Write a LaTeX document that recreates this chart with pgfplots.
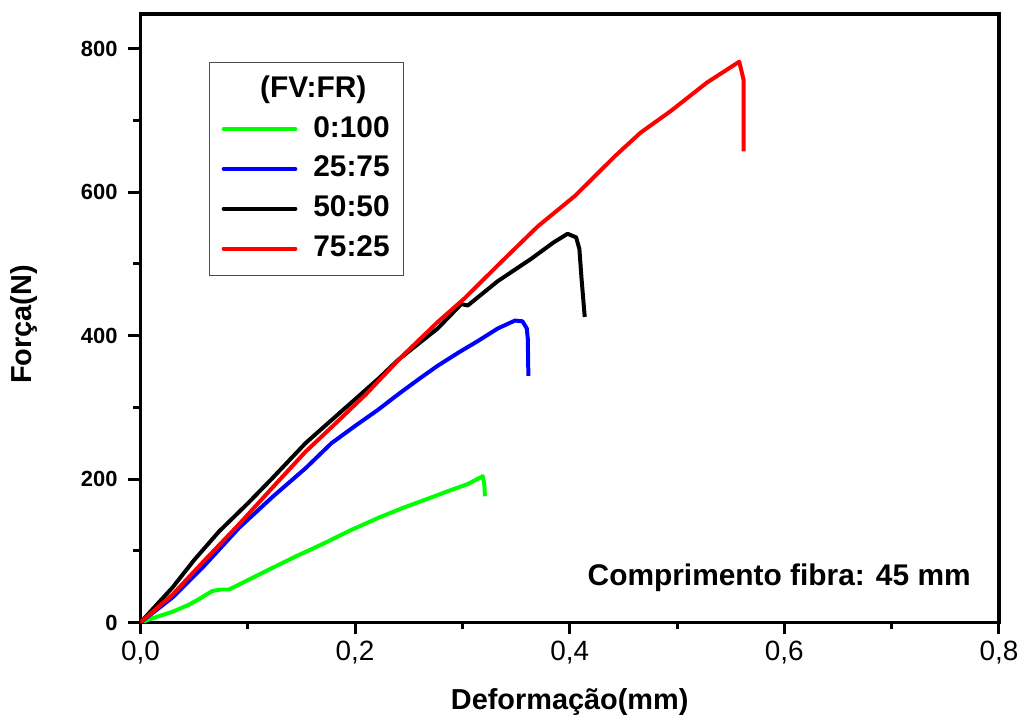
\documentclass[border=0pt]{standalone}
\usepackage{fontspec}
\setmainfont{Liberation Sans}
\usepackage{pgfplots}
\pgfplotsset{compat=1.18}

\definecolor{cgreen}{RGB}{0,255,0}
\definecolor{cblue}{RGB}{0,0,255}
\definecolor{cred}{RGB}{255,0,0}

\begin{document}
\begin{tikzpicture}
\begin{axis}[
  scale only axis,
  width=431pt, height=305.5pt,
  xmin=0, xmax=0.8,
  ymin=0, ymax=848.6,
  xtick={0,0.2,0.4,0.6,0.8},
  ytick={0,200,400,600,800},
  minor tick num=1,
  tick pos=left,
  tick align=outside,
  major tick length=6pt,
  minor tick length=3.5pt,
  every tick/.style={black, line width=1.5pt},
  axis line style={line width=1.7pt},
  /pgf/number format/assume math mode=true,
  xticklabel style={font=\fontsize{14}{16}\selectfont,
    /pgf/number format/.cd, fixed, fixed zerofill, precision=1, use comma},
  yticklabel style={font=\fontsize{11}{13}\selectfont\bfseries, xshift=-2pt,
    /pgf/number format/.cd, fixed, precision=0},
  scaled ticks=false,
  xlabel={Deformação(mm)},
  ylabel={Força(N)},
  xlabel style={font=\fontsize{14.5}{17}\selectfont\bfseries,
    at={(axis description cs:0.5,-0.1309)}, anchor=center},
  ylabel style={font=\fontsize{14.5}{17}\selectfont\bfseries,
    at={(axis description cs:-0.136,0.49)}, anchor=center},
  legend style={at={(axis description cs:0.080,0.9214)}, anchor=north west,
    draw=black!70, line width=0.6pt,
    font=\fontsize{15}{17}\selectfont\bfseries,
    inner xsep=6pt, inner ysep=5.5pt,
    column sep=7pt, row sep=4pt,
    nodes={inner sep=1pt, text height=11pt, text depth=3pt},
    cells={anchor=west}},
  legend image code/.code={\draw[#1, line width=2pt, line cap=round] (0pt,0pt) -- (36pt,0pt);},
]
\addlegendimage{empty legend}
\addlegendentry{\makebox[0pt][c]{(FV:FR)}}

\addplot[cgreen, line width=2pt, line join=round] coordinates {
(0,0) (0.0176,9) (0.030,15) (0.0455,25) (0.055,33) (0.0671,44) (0.075,46)
(0.0826,46) (0.100,59) (0.1228,76) (0.1460,93) (0.1692,109) (0.1950,128)
(0.2218,146) (0.2450,160) (0.2650,171) (0.2900,185) (0.3050,193) (0.3190,204)
(0.3205,192) (0.3210,176)
};
\addlegendentry{0:100}

\addplot[cblue, line width=2pt, line join=round] coordinates {
(0,0) (0.030,35) (0.060,80) (0.0919,132) (0.1230,175) (0.1538,215) (0.1780,250)
(0.2000,274) (0.2218,297) (0.2400,318) (0.2600,340) (0.2770,358) (0.2960,376)
(0.3150,393) (0.3330,410) (0.3490,421) (0.3560,420) (0.3600,410) (0.3610,395)
(0.3612,370) (0.3615,344)
};
\addlegendentry{25:75}

\addplot[black, line width=2pt, line join=round] coordinates {
(0,0) (0.030,49) (0.0500,87) (0.0733,127) (0.1000,166) (0.1228,201) (0.1538,250)
(0.1847,291) (0.2218,340) (0.2400,366) (0.2770,410) (0.2990,444) (0.3050,442)
(0.3330,476) (0.3640,507) (0.3850,530) (0.3980,542) (0.4060,537) (0.4090,521)
(0.4110,480) (0.4140,426)
};
\addlegendentry{50:50}

\addplot[cred, line width=2pt, line join=round] coordinates {
(0,0) (0.030,39) (0.0600,87) (0.0919,137) (0.1230,188) (0.1538,238) (0.1800,275)
(0.2100,318) (0.2430,370) (0.2770,419) (0.3020,452) (0.3330,498) (0.3700,552)
(0.4050,595) (0.4420,650) (0.4660,683) (0.4940,713) (0.5280,753) (0.5580,782)
(0.5620,757) (0.5620,657)
};
\addlegendentry{75:25}

\node[anchor=east, inner sep=0pt, font=\fontsize{15}{17}\selectfont\bfseries]
  at (axis description cs:0.9675,0.0736) {Comprimento fibra: 45 mm};
\end{axis}
\path ([shift={(-70.5pt,-48.5pt)}]current axis.south west)
  rectangle ([shift={(11pt,7pt)}]current axis.north east);
\end{tikzpicture}
\end{document}
